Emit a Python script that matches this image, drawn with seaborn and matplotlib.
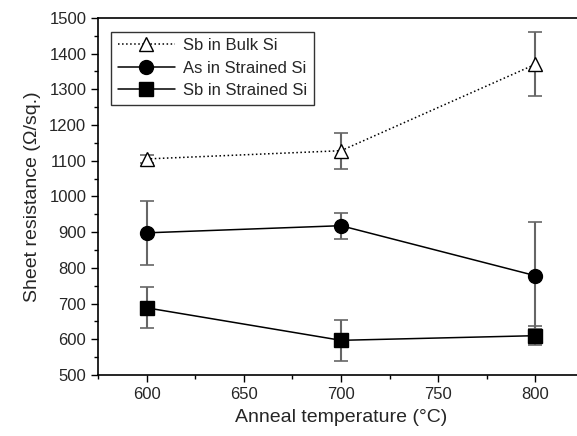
import numpy as np
import pandas as pd
import seaborn as sns
import matplotlib.pyplot as plt
from matplotlib.ticker import MultipleLocator

# anneal temperatures (C)
temps = [600, 700, 800]

# sheet resistance (ohm/sq.) and error half-widths
sb_bulk = [1105, 1128, 1370]
sb_bulk_err = [12, 50, 90]
as_strained = [898, 918, 778]
as_strained_err = [90, 36, 150]
sb_strained = [688, 597, 610]
sb_strained_err = [57, 57, 27]

labels = ["Sb in Bulk Si", "As in Strained Si", "Sb in Strained Si"]

sns.set_theme(style="ticks")
plt.rcParams['font.family'] = ['Liberation Sans', 'DejaVu Sans']

fig = plt.figure(figsize=(5.77, 4.36), dpi=100)
ax = fig.add_axes([0.170, 0.140, 0.842, 0.819])

series = [
    (sb_bulk, sb_bulk_err, labels[0], "^", ":", "white"),
    (as_strained, as_strained_err, labels[1], "o", "-", "black"),
    (sb_strained, sb_strained_err, labels[2], "s", "-", "black"),
]

for vals, errs, lab, mk, ls, fc in series:
    # error bars first so markers sit on top
    ax.errorbar(temps, vals, yerr=errs, fmt="none", ecolor="#666666",
                elinewidth=1.5, capsize=5, capthick=1.2, zorder=1)
    df = pd.DataFrame({"temp": temps, "res": vals})
    sns.lineplot(data=df, x="temp", y="res", ax=ax, color="black",
                 linestyle=ls, linewidth=1.1, marker=mk, markersize=10,
                 markerfacecolor=fc, markeredgecolor="black",
                 markeredgewidth=1.0, label=lab, zorder=3)

ax.set_xlim(575, 825)
ax.set_ylim(500, 1500)
ax.xaxis.set_major_locator(MultipleLocator(50))
ax.xaxis.set_minor_locator(MultipleLocator(25))
ax.yaxis.set_major_locator(MultipleLocator(100))
ax.yaxis.set_minor_locator(MultipleLocator(50))
ax.tick_params(which="major", direction="out", length=5, width=1, labelsize=12, color="black")
ax.tick_params(which="minor", direction="out", length=3, width=1, color="black")

for sp in ax.spines.values():
    sp.set_color("black")
    sp.set_linewidth(1.2)
ax.spines["right"].set_visible(False)

ax.set_xlabel("Anneal temperature (\u00b0C)", fontsize=14, labelpad=5)
ax.set_ylabel("Sheet resistance (\u03a9/sq.)", fontsize=14, labelpad=6)

leg = ax.legend(loc="upper left", bbox_to_anchor=(0.01, 0.985), fontsize=12,
                frameon=True, fancybox=False, edgecolor="black",
                handlelength=3.4, borderpad=0.4, labelspacing=0.45,
                handletextpad=0.5)
leg.get_frame().set_linewidth(1.0)

fig.savefig("out.png", dpi=100)
